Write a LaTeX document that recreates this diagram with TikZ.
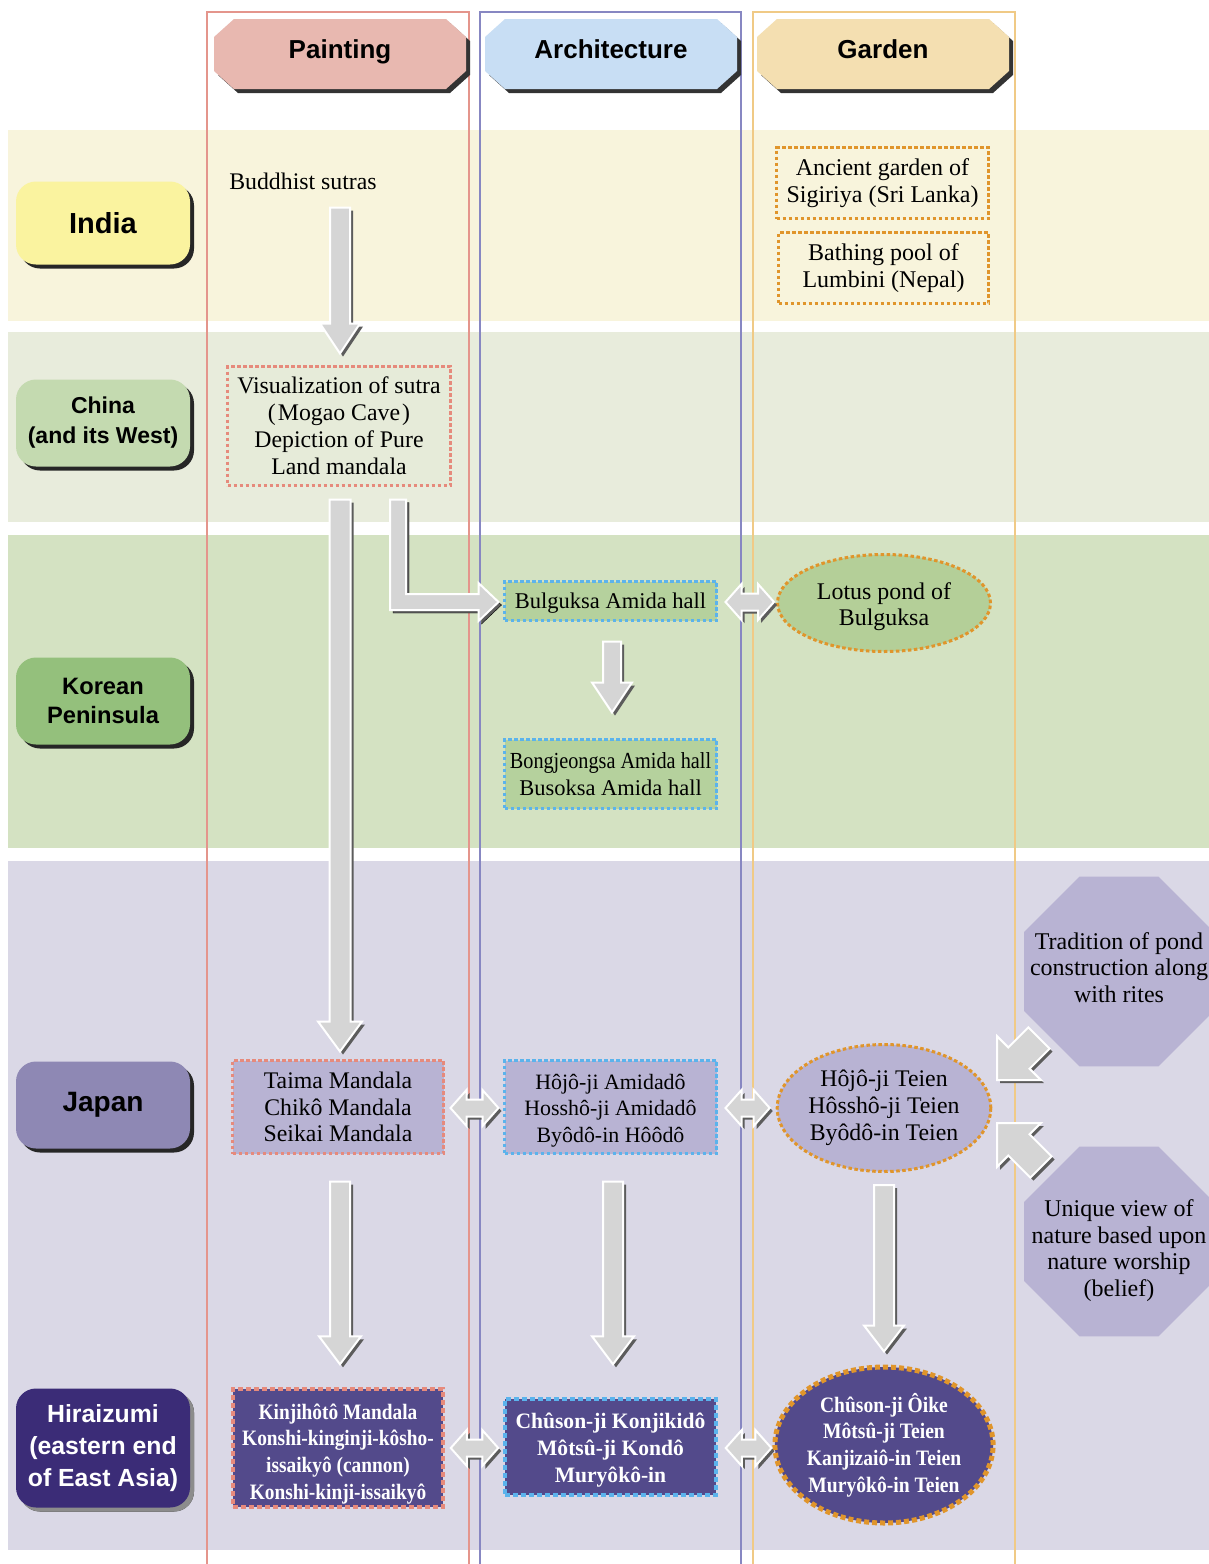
\documentclass[tikz,border=0pt]{standalone}
\usepackage{fontspec}
\setmainfont{Liberation Serif}
\setsansfont{Liberation Sans}
\newfontfamily\condA[FakeStretch=0.88]{Liberation Serif}
\newfontfamily\condB[FakeStretch=0.98]{Liberation Serif}
\newfontfamily\condC[FakeStretch=0.89]{Liberation Serif}
\usetikzlibrary{shapes.geometric,shadows,calc}

\definecolor{bandI}{HTML}{F8F4DC}
\definecolor{bandC}{HTML}{E8ECDC}
\definecolor{bandK}{HTML}{D4E2C2}
\definecolor{bandJ}{HTML}{DAD8E6}
\definecolor{hdrP}{HTML}{E8B8B0}
\definecolor{hdrA}{HTML}{C8DEF4}
\definecolor{hdrG}{HTML}{F4DFB1}
\definecolor{rowI}{HTML}{FAF39F}
\definecolor{rowC}{HTML}{C4DAB0}
\definecolor{rowK}{HTML}{94C07C}
\definecolor{rowJ}{HTML}{8E88B4}
\definecolor{rowH}{HTML}{3B2C77}
\definecolor{fillChina}{HTML}{E6EBD9}
\definecolor{fillKor}{HTML}{B5D19D}
\definecolor{fillLotus}{HTML}{B4CF98}
\definecolor{fillJap}{HTML}{B8B3D3}
\definecolor{fillHir}{HTML}{534A8B}
\definecolor{dotP}{HTML}{E68A7C}
\definecolor{dotA}{HTML}{5BB3EC}
\definecolor{dotG}{HTML}{E0952B}
\definecolor{frP}{HTML}{E4958C}
\definecolor{frA}{HTML}{8787C2}
\definecolor{frG}{HTML}{F0CA86}
\definecolor{arrFill}{HTML}{D5D5D5}
\definecolor{arrShadow}{HTML}{5C5C5C}

\tikzset{
  hdrtxt/.style={inner sep=0pt, font=\sffamily\bfseries\fontsize{26}{30}\selectfont, text height=19pt, text depth=6pt},
  rowlab/.style={rectangle, rounded corners=20pt, minimum width=174pt, inner sep=0pt, align=center,
    drop shadow={shadow xshift=4pt, shadow yshift=-4pt, fill=black!85, opacity=1}},
  txt/.style={align=center, inner sep=0pt, font=\fontsize{23.8}{27}\selectfont},
  boxbase/.style={rectangle, align=center, inner sep=0pt, line width=3pt, dash pattern=on 3.5pt off 2.5pt},
  pbox/.style={boxbase, draw=dotP},
  abox/.style={boxbase, draw=dotA},
  gbox/.style={boxbase, draw=dotG},
  hbase/.style={rectangle, align=center, inner sep=0pt, line width=4.5pt, dash pattern=on 5pt off 3pt, fill=fillHir, text=white},
  gell/.style={ellipse, align=center, inner sep=0pt, line width=3pt, dash pattern=on 3.5pt off 2.5pt, draw=dotG},
  octa/.style={regular polygon, regular polygon sides=8, minimum size=205.6pt, inner sep=0pt, fill=fillJap},
  octtxt/.style={align=center, inner sep=0pt, font=\fontsize{24}{26.5}\selectfont},
  arrbody/.style={fill=arrFill, draw=white, line width=2pt, line join=miter},
  arrshad/.style={fill=arrShadow},
}

% single block arrow: start, tip, shaft half width, head half width, head length
\newcommand\blockarrow[5]{%
  \path let \p1=(#1), \p2=(#2), \n1={atan2(\y2-\y1,\x2-\x1)}, \n2={veclen(\x2-\x1,\y2-\y1)} in
    \pgfextra{\xdef\BAx{\x1}\xdef\BAy{\y1}\xdef\BAang{\n1}\xdef\BAlen{\n2}};
  \fill[arrshad, shift={(\BAx+3pt,\BAy-3pt)}, rotate=\BAang]
    (0,#3) -- ({\BAlen-#5},#3) -- ({\BAlen-#5},#4) -- (\BAlen,0) -- ({\BAlen-#5},-#4) -- ({\BAlen-#5},-#3) -- (0,-#3) -- cycle;
  \draw[arrbody, shift={(\BAx,\BAy)}, rotate=\BAang]
    (0,#3) -- ({\BAlen-#5},#3) -- ({\BAlen-#5},#4) -- (\BAlen,0) -- ({\BAlen-#5},-#4) -- ({\BAlen-#5},-#3) -- (0,-#3) -- cycle;
}
% double block arrow
\newcommand\dblarrow[5]{%
  \path let \p1=(#1), \p2=(#2), \n1={atan2(\y2-\y1,\x2-\x1)}, \n2={veclen(\x2-\x1,\y2-\y1)} in
    \pgfextra{\xdef\BAx{\x1}\xdef\BAy{\y1}\xdef\BAang{\n1}\xdef\BAlen{\n2}};
  \fill[arrshad, shift={(\BAx+3pt,\BAy-3pt)}, rotate=\BAang]
    (0,0) -- (#5,#4) -- (#5,#3) -- ({\BAlen-#5},#3) -- ({\BAlen-#5},#4) -- (\BAlen,0) -- ({\BAlen-#5},-#4) -- ({\BAlen-#5},-#3) -- (#5,-#3) -- (#5,-#4) -- cycle;
  \draw[arrbody, shift={(\BAx,\BAy)}, rotate=\BAang]
    (0,0) -- (#5,#4) -- (#5,#3) -- ({\BAlen-#5},#3) -- ({\BAlen-#5},#4) -- (\BAlen,0) -- ({\BAlen-#5},-#4) -- ({\BAlen-#5},-#3) -- (#5,-#3) -- (#5,-#4) -- cycle;
}
% L-shaped arrow: down from start, then right to tip
\newcommand\lblockarrow[5]{%
  \path let \p1=(#1), \p2=(#2) in
    \pgfextra{\xdef\LAsx{\x1}\xdef\LAsy{\y1}\xdef\LAex{\x2}\xdef\LAey{\y2}};
  \foreach \sx/\sy/\sty in {3/-3/arrshad, 0/0/arrbody}{
  \draw[\sty, shift={(\sx,\sy)}]
    (\LAsx-#3pt,\LAsy) -- (\LAsx+#3pt,\LAsy) -- (\LAsx+#3pt,\LAey+#3pt) -- (\LAex-#5pt,\LAey+#3pt)
    -- (\LAex-#5pt,\LAey+#4pt) -- (\LAex,\LAey) -- (\LAex-#5pt,\LAey-#4pt) -- (\LAex-#5pt,\LAey-#3pt)
    -- (\LAsx-#3pt,\LAey-#3pt) -- cycle;}
}
% header plate
\newcommand\hdrbox[5]{%
  \fill[black!80, shift={(#1+4,#2-4)}] (-126,17) -- (-106,35) -- (106,35) -- (126,17) -- (126,-17) -- (106,-35) -- (-106,-35) -- (-126,-17) -- cycle;
  \fill[#3, shift={(#1,#2)}] (-126,17) -- (-106,35) -- (106,35) -- (126,17) -- (126,-17) -- (106,-35) -- (-106,-35) -- (-126,-17) -- cycle;
  \node[hdrtxt] (#4) at (#1,#2+2) {#5};
}

\begin{document}
\begin{tikzpicture}[x=1pt,y=1pt]
\useasboundingbox (0,0) rectangle (1209,-1564);
\fill[white] (0,0) rectangle (1209,-1564);

% row bands
\fill[bandI] (8,-130) rectangle (1209,-321);
\fill[bandC] (8,-332) rectangle (1209,-522);
\fill[bandK] (8,-535) rectangle (1209,-848);
\fill[bandJ] (8,-861) rectangle (1209,-1550);

% column frames
\draw[frP, line width=1.6pt] (207,-12) rectangle (469,-1600);
\draw[frA, line width=1.6pt] (480,-12) rectangle (741,-1600);
\draw[frG, line width=1.6pt] (753,-12) rectangle (1015,-1600);

% headers
\hdrbox{340}{-54}{hdrP}{hP}{Painting}
\hdrbox{611}{-54}{hdrA}{hA}{Architecture}
\hdrbox{883}{-54}{hdrG}{hG}{Garden}

% row labels
\node[rowlab, fill=rowI, minimum height=83pt, font=\sffamily\bfseries\fontsize{29}{32}\selectfont] (india) at (103,-223) {India};
\node[rowlab, fill=rowC, minimum height=87pt, font=\sffamily\bfseries\fontsize{23}{30}\selectfont] (chinaL) at (103,-423) {China\\(and its West)};
\node[rowlab, fill=rowK, minimum height=87pt, font=\sffamily\bfseries\fontsize{23.7}{29}\selectfont] (korea) at (103,-701) {Korean\\Peninsula};
\node[rowlab, fill=rowJ, minimum height=87pt, font=\sffamily\bfseries\fontsize{28}{32}\selectfont] (japan) at (103,-1105) {Japan};
\node[rowlab, fill=rowH, text=white, minimum height=119pt, font=\sffamily\bfseries\fontsize{24.8}{32}\selectfont,
  drop shadow={shadow xshift=4pt, shadow yshift=-4pt, fill=black!45, opacity=1}] (hira) at (103,-1448) {Hiraizumi\\(eastern end\\of East Asia)};

% India row
\node[txt] (sutras) at (303,-181) {Buddhist sutras};
\node[gbox, fill=bandI, minimum width=212pt, minimum height=71pt, font=\fontsize{24}{27}\selectfont] (sigiriya) at (882.5,-183) {Ancient garden of\\Sigiriya (Sri Lanka)};
\node[gbox, fill=bandI, minimum width=210pt, minimum height=71pt, font=\fontsize{24}{27}\selectfont] (lumbini) at (883.5,-268) {Bathing pool of\\Lumbini (Nepal)};

% China row
\node[pbox, fill=fillChina, minimum width=223pt, minimum height=119pt, font=\fontsize{23.8}{27}\selectfont] (china) at (339,-426)
  {Visualization of sutra\\(\kern2pt Mogao Cave\kern2pt)\\Depiction of Pure\\Land mandala};

% Korea row
\node[abox, fill=fillKor, minimum width=212pt, minimum height=39pt, text depth=0pt, font=\fontsize{22.5}{27}\selectfont] (bulguksa) at (610.5,-601) {Bulguksa Amida hall};
\node[gell, fill=fillLotus, minimum width=213pt, minimum height=97pt, font=\fontsize{23.9}{26}\selectfont] (lotus) at (884,-603) {\rule{0pt}{24pt}Lotus pond of\\Bulguksa};
\node[abox, fill=fillKor, minimum width=212pt, minimum height=69pt, font=\fontsize{22.5}{27}\selectfont] (bong) at (610.5,-774) {{\condA\fontsize{23}{27}\selectfont Bongjeongsa Amida hall}\\Busoksa Amida hall};

% Japan row
\node[pbox, fill=fillJap, minimum width=211pt, minimum height=93pt, font=\fontsize{23.8}{26.5}\selectfont] (taima) at (338,-1107) {Taima Mandala\\Chikô Mandala\\Seikai Mandala};
\node[abox, fill=fillJap, minimum width=212pt, minimum height=93pt, font=\fontsize{21.9}{26.5}\selectfont] (hojo) at (610.5,-1107) {\rule{0pt}{22pt}Hôjô-ji Amidadô\\Hosshô-ji Amidadô\\Byôdô-in Hôôdô};
\node[gell, fill=fillJap, minimum width=205pt, minimum height=127pt, font=\fontsize{23.8}{27}\selectfont] (hojoell) at (884,-1108) {Hôjô-ji Teien\\Hôsshô-ji Teien\\Byôdô-in Teien};

\node[octa] (oct1) at (1119,-971.5) {};
\node[octtxt] (oct1t) at (1119,-967.5) {Tradition of pond\\construction along\\with rites};
\node[octa] (oct2) at (1119,-1241.5) {};
\node[octtxt] (oct2t) at (1119,-1250.5) {Unique view of\\nature based upon\\nature worship\\(belief)};

% Hiraizumi row
\node[hbase, draw=dotP, minimum width=210pt, minimum height=118pt, font=\condA\bfseries\fontsize{22}{26.7}\selectfont] (kinji) at (338,-1448)
  {\rule{0pt}{27pt}Kinjihôtô Mandala\\Konshi-kinginji-kôsho-\\issaikyô (cannon)\\Konshi-kinji-issaikyô};
\node[hbase, draw=dotA, minimum width=211pt, minimum height=96pt, font=\condB\bfseries\fontsize{22}{27}\selectfont] (chuson) at (610.5,-1447)
  {\rule{0pt}{22pt}Chûson-ji Konjikidô\\Môtsû-ji Kondô\\Muryôkô-in};
\node[ellipse, align=center, inner sep=0pt, line width=5pt, dash pattern=on 5pt off 3pt, draw=dotG, fill=fillHir, text=white,
  minimum width=214pt, minimum height=156pt, font=\condC\bfseries\fontsize{22}{26.7}\selectfont] (chusonell) at (884,-1445)
  {Chûson-ji Ôike\\Môtsû-ji Teien\\Kanjizaiô-in Teien\\Muryôkô-in Teien};

% connectors
\blockarrow{$(sutras.south)+(37,-18)$}{$(china.north)+(1,11.5)$}{10}{20}{30}
\blockarrow{$(china.south)+(1,-12.5)$}{$(taima.north)+(2,7.5)$}{10.5}{22}{30}
\lblockarrow{$(china.south)+(59,-12.5)$}{$(bulguksa.west)+(-4.5,-1)$}{8}{19}{20}
\blockarrow{$(bulguksa.south)+(1.5,-19.5)$}{$(bong.north)+(1.5,25.5)$}{9}{20}{30}
\dblarrow{$(bulguksa.east)+(7.5,-1)$}{$(lotus.west)+(-2,1)$}{8.5}{18}{16}
\dblarrow{$(taima.east)+(5.5,-1)$}{$(hojo.west)+(-4.5,-1)$}{8.5}{18}{16}
\dblarrow{$(hojo.east)+(7.5,-1)$}{$(hojoell.west)+(-6,0)$}{8.5}{18}{16}
\blockarrow{$(oct1)+(-80,-66.5)$}{$(hojoell)+(113,28)$}{15}{31}{31}
\blockarrow{$(oct2)+(-78,74.5)$}{$(hojoell)+(113,-15)$}{15}{31}{31}
\blockarrow{$(taima.south)+(2,-26.5)$}{$(kinji.north)+(2,22.5)$}{10}{21}{28}
\blockarrow{$(hojo.south)+(2.5,-26.5)$}{$(chuson.north)+(2.5,32.5)$}{10}{21}{28}
\blockarrow{$(hojoell.south)+(0,-12)$}{$(chusonell.north)+(0,13)$}{10}{20}{26}
\dblarrow{$(kinji.east)+(5.5,0)$}{$(chuson.west)+(-4.5,-1)$}{8.5}{18}{16}
\dblarrow{$(chuson.east)+(7.5,-1)$}{$(chusonell.west)+(-1,-3)$}{8.5}{18}{16}
\end{tikzpicture}
\end{document}
